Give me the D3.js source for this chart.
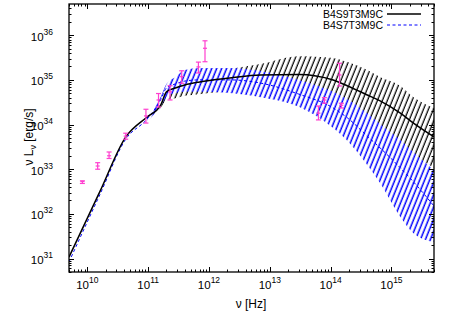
<!DOCTYPE html>
<html><head><meta charset="utf-8">
<script src="https://cdn.jsdelivr.net/npm/d3@7"></script>
<style>body{margin:0;background:#fff}text{font-family:"Liberation Sans",Arial,Helvetica,sans-serif}</style>
</head><body><svg id="c" width="458" height="321"></svg>
<script>
// ---- data ----
const freq = [5e9,1.6e10,4.3e10,9.6e10,1.6e11,2e11,2.8e11,4e11,7e11,2.2e12,7e12,3e13,1.1e14,1.9e14,4e14,6.5e14,1.4e15,2.3e15,5e15];
const blackLine = [1.08e31,3.1e32,5.3e33,1.48e34,2.7e34,5.4e34,6.6e34,7.7e34,9.0e34,1.1e35,1.29e35,1.32e35,9.9e34,7.3e34,4.6e34,3.4e34,1.8e34,1.08e34,5.3e33];
const blueLine = [8.4e30,2.65e32,4.75e33,1.33e34,3.55e34,6.6e34,8.1e34,9.4e34,1.0e35,1.0e35,8.5e34,4.8e34,2.35e34,1.4e34,5.5e33,3.0e33,1.07e33,5.2e32,1.5e32];
const bandFreq = freq.slice(3);
const blackUpper = [1.48e34,3.0e34,6.3e34,8.1e34,1.0e35,1.22e35,1.75e35,2.27e35,3.4e35,3.1e35,2.5e35,1.66e35,1.16e35,7.3e34,4.1e34,2.35e34];
const blackLower = [1.48e34,2.35e34,3.55e34,3.9e34,4.4e34,4.8e34,5.4e34,5.4e34,4.6e34,3.55e34,2.35e34,1.27e34,7.6e33,3.5e33,2.1e33,1.07e33];
const blueUpper = [1.48e34,4.1e34,8.1e34,1.16e35,1.66e35,1.85e35,1.85e35,1.58e35,9.9e34,5.4e34,3.7e34,1.8e34,1.03e34,4.5e33,2.4e33,9.6e32];
const blueLower = [1.14e34,2.6e34,4.1e34,5.1e34,5.4e34,5.4e34,5.1e34,4.1e34,2.5e34,8.4e33,4.3e33,1.24e33,4.9e32,8.5e31,3.7e31,2.35e31];
const obsFreq = [8.3e9,1.48e10,2.28e10,4.28e10,9.2e10,1.48e11,2.29e11,3.56e11,6.7e11,8.6e11,6.3e13,7.9e13,1.4e14,1.5e14];
const obsL  = [5.3e32,1.18e33,2.0e33,5.5e33,1.56e34,3.55e34,5.4e34,1.18e35,1.95e35,5.1e35,1.8e34,3.55e34,1.29e35,2.7e34];
const obsLo = [4.8e32,1.0e33,1.74e33,4.7e33,1.08e34,2.47e34,3.55e34,8.4e34,1.43e35,2.55e35,1.27e34,3.0e34,7.3e34,2.35e34];
const obsHi = [5.5e32,1.4e33,2.43e33,6.4e33,2.2e34,4.95e34,7.4e34,1.6e35,2.5e35,7.5e35,2.6e34,4.0e34,2.36e35,3.0e34];
const xTickExp = [10,11,12,13,14,15];
const yTickExp = [31,32,33,34,35,36];
const seriesNames = ["B4S9T3M9C","B4S7T3M9C"];

// ---- layout ----
const L=69,R=434,T=4,B=272;
const svg=d3.select("#c");
const x=d3.scaleLog().domain([5e9,5e15]).range([L,R]);
const y=d3.scaleLog().domain([5e30,5e36]).range([B,T]);

const defs=svg.append("defs");
function hatch(id,color,sw,bg){
  const w=4.6;
  const p=defs.append("pattern").attr("id",id).attr("patternUnits","userSpaceOnUse")
    .attr("width",w).attr("height",10).attr("patternTransform","rotate(22)");
  if(bg) p.append("rect").attr("width",w).attr("height",10).attr("fill","#fff");
  p.append("line").attr("x1",1.2).attr("x2",1.2).attr("y1",0).attr("y2",10).attr("stroke",color).attr("stroke-width",sw);
}
hatch("hk","#000",1.25,false);
hatch("hb","#0000ff",1.5,true);
defs.append("clipPath").attr("id","clip").append("rect").attr("x",L).attr("y",T).attr("width",R-L).attr("height",B-T);

const g=svg.append("g").attr("clip-path","url(#clip)");
const idx=d3.range(bandFreq.length);
const area=(up,lo)=>d3.area().curve(d3.curveMonotoneX).x(i=>x(bandFreq[i])).y0(i=>y(lo[i])).y1(i=>y(up[i]));
g.append("path").datum(idx).attr("d",area(blackUpper,blackLower)).attr("fill","url(#hk)");
g.append("path").datum(idx).attr("d",area(blueUpper,blueLower)).attr("fill","url(#hb)");

const line=(vals)=>d3.line().curve(d3.curveMonotoneX).x(i=>x(freq[i])).y(i=>y(vals[i]));
const fidx=d3.range(freq.length);
g.append("path").datum(fidx).attr("d",line(blueLine)).attr("fill","none").attr("stroke","#0000ff").attr("stroke-width",1).attr("stroke-dasharray","3,2.5");
g.append("path").datum(fidx).attr("d",line(blackLine)).attr("fill","none").attr("stroke","#000").attr("stroke-width",1.5);

// error bars
const mag="#ff3fcf";
const eb=g.append("g").attr("stroke",mag).attr("stroke-width",1.2);
obsFreq.forEach((f,i)=>{
  const cx=x(f);
  eb.append("line").attr("x1",cx).attr("x2",cx).attr("y1",y(obsLo[i])).attr("y2",y(obsHi[i]));
  [obsLo[i],obsHi[i]].forEach(v=>eb.append("line").attr("x1",cx-2.5).attr("x2",cx+2.5).attr("y1",y(v)).attr("y2",y(v)));
  eb.append("line").attr("x1",cx-2).attr("x2",cx+2).attr("y1",y(obsL[i])).attr("y2",y(obsL[i]));
});

// axes ticks
function minors(lo,hi){const a=[];for(let e=lo;e<=hi;e++)for(let m=1;m<10;m++)a.push(m*Math.pow(10,e));return a;}
const xMaj=xTickExp.map(e=>Math.pow(10,e));
const yMaj=yTickExp.map(e=>Math.pow(10,e));
const xMin=minors(9,15).filter(v=>v>=5e9&&v<=5e15&&!xMaj.includes(v));
const yMin=minors(30,36).filter(v=>v>=5e30&&v<=5e36&&!yMaj.includes(v));
const ax=svg.append("g").attr("stroke","#000").attr("stroke-width",1);
function tk(vals,len,scale,horiz){
  vals.forEach(v=>{
    const p=Math.round(scale(v))+0.5;
    if(horiz){
      ax.append("line").attr("x1",p).attr("x2",p).attr("y1",B).attr("y2",B-len);
      ax.append("line").attr("x1",p).attr("x2",p).attr("y1",T).attr("y2",T+len);
    } else {
      ax.append("line").attr("y1",p).attr("y2",p).attr("x1",L).attr("x2",L+len);
      ax.append("line").attr("y1",p).attr("y2",p).attr("x1",R).attr("x2",R-len);
    }
  });
}
tk(xMaj,5,x,true);tk(xMin,2.5,x,true);tk(yMaj,5,y,false);tk(yMin,2.5,y,false);
svg.append("rect").attr("x",L).attr("y",T).attr("width",R-L).attr("height",B-T).attr("fill","none").attr("stroke","#000").attr("stroke-width",1.3);

// tick labels
xTickExp.forEach((e,i)=>{
  const t=svg.append("text").attr("x",x(xMaj[i])).attr("y",289).attr("text-anchor","middle").attr("font-size",11.5);
  t.append("tspan").text("10");
  t.append("tspan").attr("dy",-6).attr("font-size",8.5).text(e);
});
yTickExp.forEach((e,i)=>{
  const t=svg.append("text").attr("x",53).attr("y",y(yMaj[i])+5.5).attr("text-anchor","end").attr("font-size",11.5);
  t.append("tspan").text("10");
  t.append("tspan").attr("dy",-6).attr("font-size",8.5).text(e);
});

// axis titles
svg.append("text").attr("x",251).attr("y",308).attr("text-anchor","middle").attr("font-size",12).text("ν [Hz]");
const yt=svg.append("text").attr("transform","translate(33,137) rotate(-90)").attr("text-anchor","middle").attr("font-size",12);
yt.append("tspan").text("ν L");
yt.append("tspan").attr("dy",3).attr("font-size",9).text("ν");
yt.append("tspan").attr("dy",-3).text(" [erg/s]");

// legend
const lg=svg.append("g");
seriesNames.forEach((n,i)=>{
  lg.append("text").attr("x",383).attr("y",17.5+i*11).attr("text-anchor","end").attr("font-size",10.5).text(n);
});
lg.append("line").attr("x1",387).attr("x2",421).attr("y1",14).attr("y2",14).attr("stroke","#000").attr("stroke-width",1.5);
lg.append("line").attr("x1",387).attr("x2",421).attr("y1",25).attr("y2",25).attr("stroke","#0000ff").attr("stroke-width",1).attr("stroke-dasharray","3,2.5");
</script></body></html>
